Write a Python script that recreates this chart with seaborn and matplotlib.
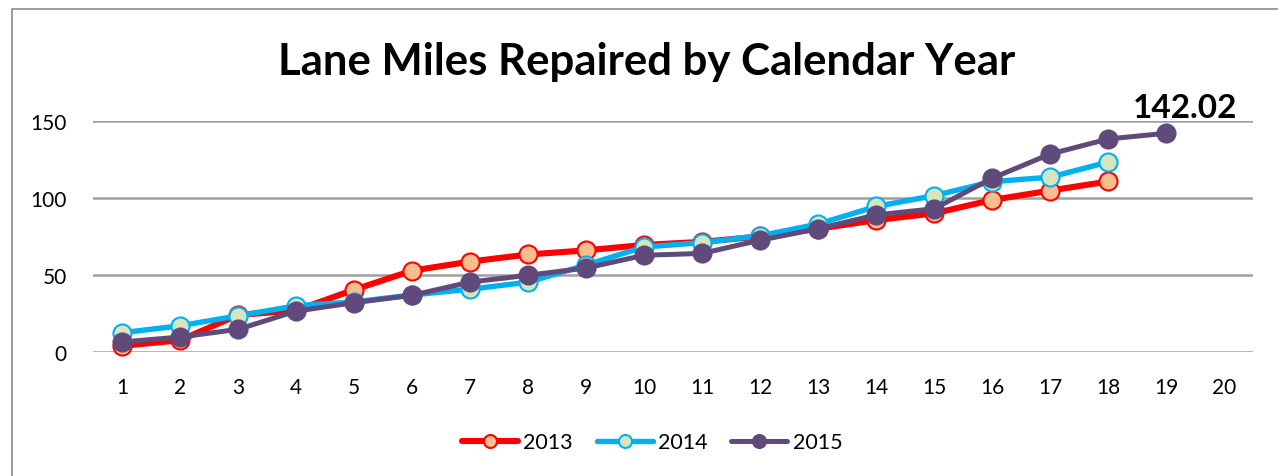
import numpy as np
import pandas as pd
import matplotlib.pyplot as plt
import seaborn as sns
from matplotlib.patches import Rectangle

# values
weeks_2013 = list(range(1, 19))
miles_2013 = [4, 7.6, 24, 27, 40.4, 52.8, 58.7, 63.3, 66, 69.5, 71.5, 75, 80, 85.6, 90, 98.7, 104.8, 110.7]
weeks_2014 = list(range(1, 19))
miles_2014 = [12.5, 17, 23.5, 30, 32.5, 37, 40.8, 45.3, 56.5, 68.2, 71, 75.5, 83, 94.5, 101.5, 110.6, 113.5, 123.3]
weeks_2015 = list(range(1, 20))
miles_2015 = [6.5, 9.7, 14.7, 26.5, 32, 36.8, 45.4, 49.8, 54.5, 62.8, 64, 72.6, 80, 89, 93, 112.8, 128.5, 138.3, 142.02]
years = ['2013', '2014', '2015']
x_ticks = list(range(1, 21))

df = pd.concat([
    pd.DataFrame({'week': weeks_2013, 'miles': miles_2013, 'year': '2013'}),
    pd.DataFrame({'week': weeks_2014, 'miles': miles_2014, 'year': '2014'}),
    pd.DataFrame({'week': weeks_2015, 'miles': miles_2015, 'year': '2015'}),
])

sns.set_theme(style='white')
plt.rcParams['font.family'] = ['Lato', 'DejaVu Sans']
plt.rcParams['text.color'] = 'black'

line_col = {'2013': '#FF0000', '2014': '#00B0F0', '2015': '#604A7B'}
fill_col = {'2013': '#F9BE8E', '2014': '#D7E4BD', '2015': '#604A7B'}
line_w = {'2013': 4.4, '2014': 3.9, '2015': 3.6}

fig = plt.figure(figsize=(12.78, 4.77), dpi=100)
ax = fig.add_axes([0.0728, 0.26, 0.9077, 0.4843])

for yr in years:
    sub = df[df['year'] == yr]
    sns.lineplot(data=sub, x='week', y='miles', ax=ax, color=line_col[yr], lw=line_w[yr],
                 marker='o', markersize=13, markerfacecolor=fill_col[yr],
                 markeredgecolor=line_col[yr], markeredgewidth=1.5, label=yr, clip_on=False)

ax.set_xlim(0.5, 20.5)
ax.set_ylim(0, 150)
ax.set_yticks([0, 50, 100, 150])
ax.set_xticks(x_ticks)
sns.despine(ax=ax, left=True, bottom=True)
ax.grid(axis='y', color='#A0A0A0', lw=1.8)
ax.set_axisbelow(True)
ax.set_xlabel('')
ax.set_ylabel('')
ax.tick_params(axis='x', labelsize=15, length=0, colors='black', pad=18)
ax.tick_params(axis='y', labelsize=15, length=0, colors='black', pad=19)

ax.annotate(f'{miles_2015[-1]:.2f}', (weeks_2015[-1], miles_2015[-1]),
            xytext=(14, 8), textcoords='offset points', ha='center', va='bottom',
            fontsize=24, fontweight='bold', color='black', annotation_clip=False)

fig.text(0.506, 1 - 62 / 477, 'Lane Miles Repaired by Calendar Year', fontsize=31.5,
         fontweight='bold', ha='center', va='center', color='black')

ax.legend(loc='center', bbox_to_anchor=(0.482, -0.39), ncol=3, frameon=False,
          fontsize=15.5, handlelength=2.6, handletextpad=0.25, columnspacing=1.1,
          markerscale=0.72, labelcolor='black')

fig.patches.append(Rectangle((12 / 1278, -0.1), 1.2, 1 - 10 / 477 + 0.1, transform=fig.transFigure,
                             fill=False, edgecolor='#8C8C8C', lw=1.2))

fig.savefig('out.png', dpi=100)
